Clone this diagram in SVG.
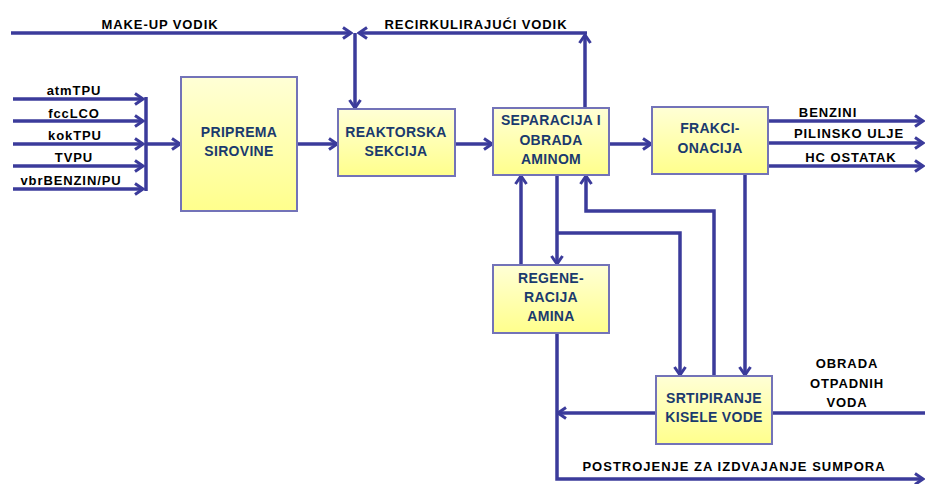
<svg xmlns="http://www.w3.org/2000/svg" width="925" height="484" viewBox="0 0 925 484">
<defs>
<linearGradient id="yg" x1="0" y1="0" x2="0" y2="1">
<stop offset="0" stop-color="#ffffd6"/>
<stop offset="1" stop-color="#ffff8c"/>
</linearGradient>
<marker id="ah" markerUnits="userSpaceOnUse" markerWidth="14" markerHeight="14" viewBox="0 0 14 14" refX="12" refY="7" orient="auto">
<path d="M4,1.5 L12,7 L4,12.5" fill="none" stroke="#3b3b9b" stroke-width="3"/>
</marker>
</defs>
<style>
.box{fill:url(#yg);stroke:#7373b8;stroke-width:2}
.bt{font-family:"Liberation Sans",Arial,sans-serif;font-weight:bold;font-size:14px;fill:#1a3a6e;text-anchor:middle;letter-spacing:0.3px}
.lt{font-family:"Liberation Sans",Arial,sans-serif;font-weight:bold;font-size:13px;fill:#000;text-anchor:middle;letter-spacing:0.9px}
.c{fill:none;stroke:#3b3b9b;stroke-width:3.5}
.a{marker-end:url(#ah)}
</style>
<rect width="925" height="484" fill="#fff"/>
<g id="connectors">
<path class="c a" d="M11,33 H351"/>
<path class="c a" d="M585,108 V35"/>
<path class="c a" d="M587,33 H359"/>
<path class="c a" d="M355,33 V108"/>
<path class="c a" d="M13,99 H143"/>
<path class="c a" d="M13,121 H143"/>
<path class="c a" d="M13,144 H143"/>
<path class="c a" d="M13,166 H143"/>
<path class="c a" d="M13,189 H143"/>
<path class="c" d="M146,97 V191"/>
<path class="c a" d="M146,144 H180"/>
<path class="c a" d="M297,144 H337"/>
<path class="c a" d="M455,144 H492"/>
<path class="c a" d="M609,144 H651"/>
<path class="c a" d="M768,121 H923"/>
<path class="c a" d="M768,143 H923"/>
<path class="c a" d="M768,166 H923"/>
<path class="c a" d="M521,265 V176"/>
<path class="c a" d="M557,175 V264"/>
<path class="c a" d="M557,233 H680 V375"/>
<path class="c a" d="M714,376 V211 H586 V176"/>
<path class="c a" d="M745,174 V375"/>
<path class="c a" d="M557,333 V479 H923"/>
<path class="c a" d="M656,413 H558"/>
<path class="c" d="M772,413 H925"/>
</g>
<g id="labels">
<text class="lt" x="160" y="29">MAKE-UP VODIK</text>
<text class="lt" x="476" y="29">RECIRKULIRAJUĆI VODIK</text>
<text class="lt" x="74" y="95">atmTPU</text>
<text class="lt" x="74" y="118">fccLCO</text>
<text class="lt" x="75" y="140">kokTPU</text>
<text class="lt" x="74" y="162">TVPU</text>
<text class="lt" x="71" y="185">vbrBENZIN/PU</text>
<text class="lt" x="828" y="117">BENZINI</text>
<text class="lt" x="849" y="138">PILINSKO ULJE</text>
<text class="lt" x="851" y="162">HC OSTATAK</text>
<text class="lt" x="847" y="368">OBRADA</text>
<text class="lt" x="847" y="388">OTPADNIH</text>
<text class="lt" x="847" y="407">VODA</text>
<text class="lt" x="734" y="471" style="letter-spacing:1px">POSTROJENJE ZA IZDVAJANJE SUMPORA</text>
</g>
<g id="priprema">
<rect class="box" x="181" y="77" width="116" height="134"/>
<text class="bt" x="239" y="137">PRIPREMA</text>
<text class="bt" x="239" y="156">SIROVINE</text>
</g>
<g id="reaktorska">
<rect class="box" x="338" y="109" width="117" height="67"/>
<text class="bt" x="396" y="137">REAKTORSKA</text>
<text class="bt" x="396" y="156">SEKCIJA</text>
</g>
<g id="separacija">
<rect class="box" x="493" y="108" width="116" height="67"/>
<text class="bt" x="551" y="125">SEPARACIJA I</text>
<text class="bt" x="551" y="145">OBRADA</text>
<text class="bt" x="551" y="164">AMINOM</text>
</g>
<g id="frakcionacija">
<rect class="box" x="652" y="107" width="116" height="67"/>
<text class="bt" x="710" y="133">FRAKCI-</text>
<text class="bt" x="710" y="153">ONACIJA</text>
</g>
<g id="regeneracija">
<rect class="box" x="493" y="265" width="116" height="68"/>
<text class="bt" x="551" y="283">REGENE-</text>
<text class="bt" x="551" y="302">RACIJA</text>
<text class="bt" x="551" y="321">AMINA</text>
</g>
<g id="stripiranje">
<rect class="box" x="656" y="376" width="116" height="68"/>
<text class="bt" x="714" y="403">SRTIPIRANJE</text>
<text class="bt" x="714" y="422">KISELE VODE</text>
</g>
</svg>
